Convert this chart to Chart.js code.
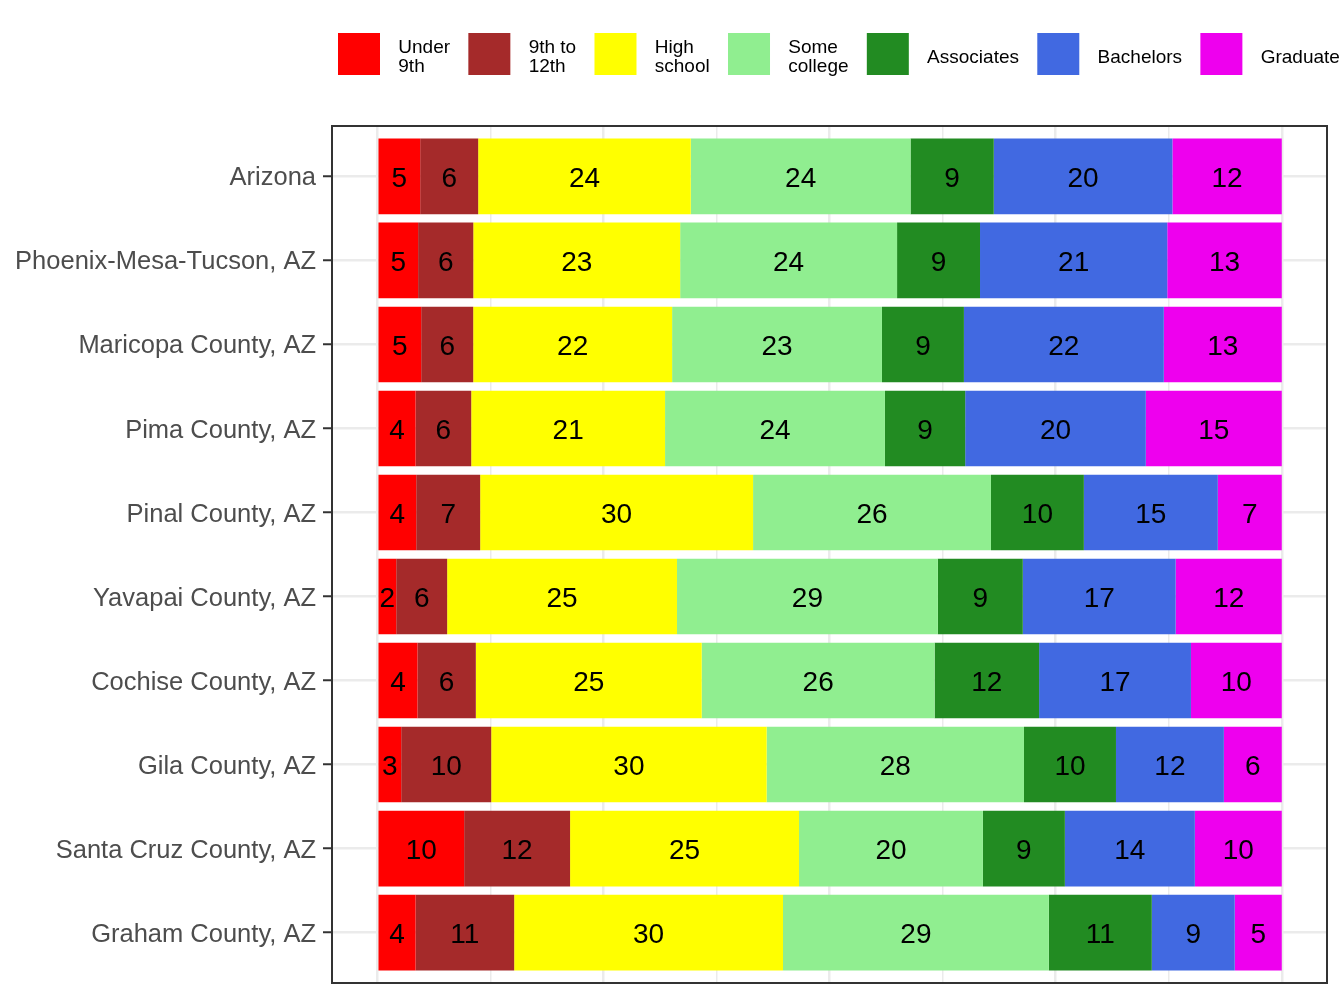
<!DOCTYPE html>
<html>
<head>
<meta charset="utf-8">
<script src="https://cdn.jsdelivr.net/npm/chart.js@4.4.1/dist/chart.umd.min.js"></script>
<style>
html,body{margin:0;padding:0;background:#ffffff;}
#wrap{width:1344px;height:1008px;}
</style>
</head>
<body>
<div id="wrap"><canvas id="c" width="1344" height="1008"></canvas></div>
<script>
// ---- data ----
const categories = [
  "Arizona", "Phoenix-Mesa-Tucson, AZ", "Maricopa County, AZ", "Pima County, AZ",
  "Pinal County, AZ", "Yavapai County, AZ", "Cochise County, AZ", "Gila County, AZ",
  "Santa Cruz County, AZ", "Graham County, AZ"
];
const seriesNames = ["Under 9th", "9th to 12th", "High school", "Some college", "Associates", "Bachelors", "Graduate"];
const legendLines = [["Under", "9th"], ["9th to", "12th"], ["High", "school"], ["Some", "college"], ["Associates"], ["Bachelors"], ["Graduate"]];
const seriesColors = ["#FF0000", "#A52A2A", "#FFFF00", "#90EE90", "#228B22", "#4169E1", "#EE00EE"];

const under9th    = [4.75, 4.52, 4.86, 4.24, 4.31, 2.10, 4.45, 2.65, 9.61, 4.24];
const grade9to12  = [6.41, 6.10, 5.75, 6.15, 7.07, 5.63, 6.45, 9.95, 11.71, 10.90];
const highSchool  = [23.50, 22.87, 21.99, 21.43, 30.17, 25.41, 24.97, 30.45, 25.31, 29.72];
const someCollege = [24.30, 23.98, 23.20, 24.31, 26.30, 28.84, 25.75, 28.45, 20.33, 29.39];
const associates  = [9.20, 9.17, 9.06, 8.87, 10.27, 9.39, 11.55, 10.17, 9.06, 11.38];
const bachelors   = [19.75, 20.70, 22.10, 19.97, 14.81, 16.90, 16.79, 11.93, 14.37, 9.17];
const graduate    = [12.09, 12.66, 13.04, 15.03, 7.07, 11.73, 10.04, 6.40, 9.61, 5.20];

const xGridTicks = [0, 12.5, 25, 37.5, 50, 62.5, 75, 87.5, 100];

const seriesValues = [under9th, grade9to12, highSchool, someCollege, associates, bachelors, graduate];

const FONT = '"Liberation Sans", Arial, Helvetica, sans-serif';

const datasets = seriesValues.map((vals, s) => ({
  label: seriesNames[s],
  data: vals.map((v, i) => ({ x: v, y: i })),
  backgroundColor: seriesColors[s],
  borderWidth: 0,
  barPercentage: 0.9,
  categoryPercentage: 1.0
}));

const valueLabels = {
  id: 'valueLabels',
  afterDatasetsDraw(chart) {
    const ctx = chart.ctx;
    ctx.save();
    ctx.font = '28px ' + FONT;
    ctx.fillStyle = '#000000';
    ctx.textAlign = 'center';
    ctx.textBaseline = 'middle';
    chart.data.datasets.forEach((ds, di) => {
      const meta = chart.getDatasetMeta(di);
      meta.data.forEach((el, i) => {
        const v = ds.data[i].x;
        const cx = (el.x + el.base) / 2;
        ctx.fillText(String(Math.round(v)), cx, el.y + 3);
      });
    });
    ctx.restore();
  }
};

const panelBorder = {
  id: 'panelBorder',
  afterDraw(chart) {
    const a = chart.chartArea;
    const ctx = chart.ctx;
    ctx.save();
    ctx.strokeStyle = '#333333';
    ctx.lineWidth = 2;
    ctx.strokeRect(a.left, a.top, a.right - a.left, a.bottom - a.top);
    ctx.restore();
  }
};

const customLegend = {
  id: 'customLegend',
  afterDraw(chart) {
    const ctx = chart.ctx;
    ctx.save();
    ctx.font = '19px ' + FONT;
    ctx.fillStyle = '#000000';
    ctx.textAlign = 'left';
    ctx.textBaseline = 'alphabetic';
    let x = 338;
    const boxTop = 33, boxSize = 42, gap = 18.3;
    chart.data.datasets.forEach((ds, i) => {
      ctx.fillStyle = ds.backgroundColor;
      ctx.fillRect(x, boxTop, boxSize, boxSize);
      const lines = legendLines[i];
      const tx = x + boxSize + gap;
      ctx.fillStyle = '#000000';
      let w = 0;
      if (lines.length === 1) {
        ctx.fillText(lines[0], tx, 63);
        w = ctx.measureText(lines[0]).width;
      } else {
        ctx.fillText(lines[0], tx, 53);
        ctx.fillText(lines[1], tx, 72);
        w = Math.max(ctx.measureText(lines[0]).width, ctx.measureText(lines[1]).width);
      }
      x = tx + w + gap;
    });
    ctx.restore();
  }
};

new Chart(document.getElementById('c'), {
  type: 'bar',
  data: { datasets },
  plugins: [valueLabels, panelBorder, customLegend],
  options: {
    indexAxis: 'y',
    responsive: false,
    animation: false,
    layout: { padding: { top: 126, right: 17, bottom: 25, left: 0 } },
    plugins: { legend: { display: false }, tooltip: { enabled: false } },
    scales: {
      x: {
        type: 'linear',
        stacked: true,
        min: -5,
        max: 105,
        position: 'bottom',
        offset: false,
        afterBuildTicks: s => { s.ticks = xGridTicks.map(v => ({ value: v })); },
        ticks: { display: false },
        grid: {
          color: '#EBEBEB',
          offset: false,
          lineWidth: c => (c.tick && c.tick.value % 25 === 0) ? 2.5 : 1.5,
          drawTicks: false
        },
        border: { display: false },
        afterFit: s => { s.height = 0; }
      },
      y: {
        type: 'linear',
        stacked: true,
        reverse: true,
        min: -0.6,
        max: 9.6,
        offset: false,
        afterBuildTicks: s => { s.ticks = categories.map((_, i) => ({ value: i })); },
        ticks: {
          callback: v => categories[v],
          font: { family: FONT, size: 25.5 },
          color: '#4D4D4D',
          padding: 7,
          labelOffset: 2,
          autoSkip: false
        },
        grid: { color: '#EBEBEB', offset: false, lineWidth: 2.5, tickLength: 9, tickColor: '#333333', tickWidth: 2 },
        border: { display: false },
        afterFit: s => { s.width = 332; }
      }
    }
  }
});
</script>
</body>
</html>
